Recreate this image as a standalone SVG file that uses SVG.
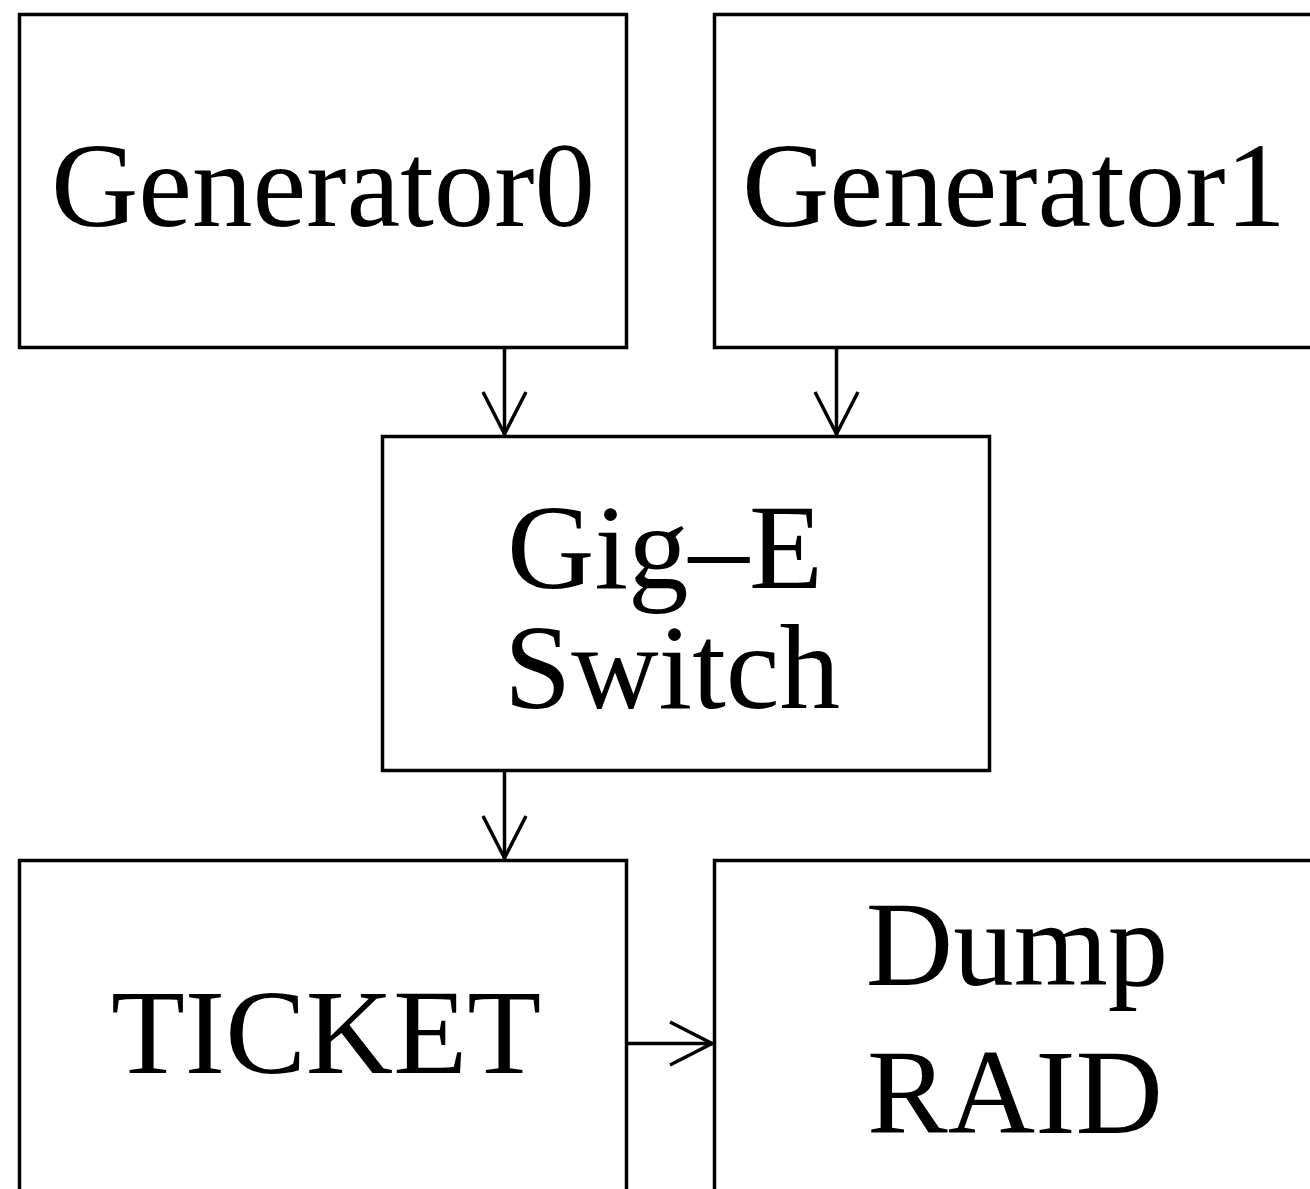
<svg xmlns="http://www.w3.org/2000/svg" width="1310" height="1189" viewBox="0 0 1310 1189">
  <style>
    .box { fill: #ffffff; stroke: #000000; stroke-width: 3.5; }
    .label { font-family: "Liberation Serif", "Times New Roman", serif; font-size: 121px; fill: #000000; text-anchor: middle; }
    .wire { fill: none; stroke: #000000; stroke-width: 3.5; }
    .head { fill: none; stroke: #000000; stroke-width: 3.5; stroke-linejoin: miter; }
  </style>
  <rect width="1310" height="1189" fill="#ffffff"/>

  <g id="gen0">
    <rect class="box" x="19.5" y="14.5" width="607" height="333"/>
    <text class="label" x="323" y="226">Generator0</text>
  </g>
  <g id="gen1">
    <rect class="box" x="714.5" y="14.5" width="607" height="333"/>
    <text class="label" x="1014" y="226">Generator1</text>
  </g>
  <g id="switch">
    <rect class="box" x="382.5" y="436.5" width="607" height="334"/>
    <text class="label" x="665" y="588">Gig–E</text>
    <text class="label" x="672" y="708">Switch</text>
  </g>
  <g id="ticket">
    <rect class="box" x="19.5" y="860.5" width="607" height="340"/>
    <text class="label" x="326" y="1073">TICKET</text>
  </g>
  <g id="dump">
    <rect class="box" x="714.5" y="860.5" width="607" height="340"/>
    <text class="label" x="1017" y="985">Dump</text>
    <text class="label" x="1015" y="1133">RAID</text>
  </g>

  <g id="connectors">
    <path class="wire" d="M504.5 347 V436"/>
    <path class="head" d="M483 392 L504.5 434 L526 392"/>
    <path class="wire" d="M836.5 347 V436"/>
    <path class="head" d="M815 392 L836.5 434 L858 392"/>
    <path class="wire" d="M504.5 771 V860"/>
    <path class="head" d="M483 816 L504.5 858 L526 816"/>
    <path class="wire" d="M626 1043.5 H714"/>
    <path class="head" d="M670 1022 L712 1043.5 L670 1065"/>
  </g>
</svg>
